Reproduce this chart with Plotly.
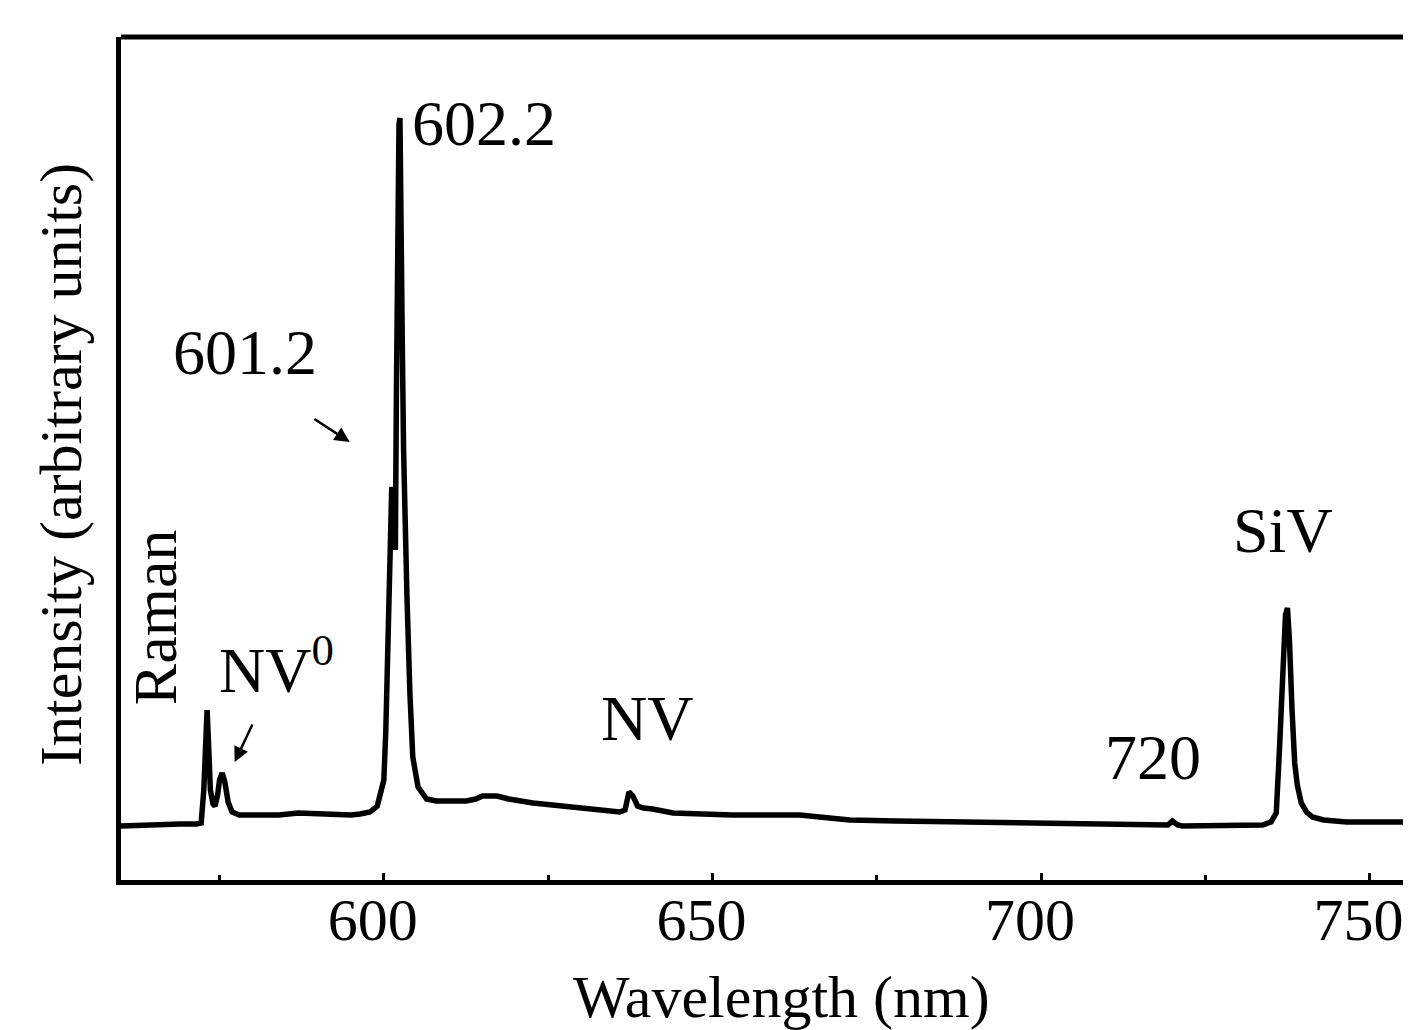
import plotly.graph_objects as go

# ---- data ----
wavelength_nm = [560.0, 563, 566, 569, 571.5, 572.2, 572.6, 572.9, 573.1, 573.3, 573.6, 574.0, 574.3,
                 574.7, 575.0, 575.4, 575.8, 576.3, 576.9, 578.0, 581, 584, 587, 590, 593, 595, 596.4,
                 597.9, 599.0, 599.6, 600.0, 600.3, 600.5, 600.7, 600.9, 601.05, 601.2, 601.4, 601.6,
                 601.75, 601.9, 602.1, 602.3, 602.45, 602.6, 602.8, 603.0, 603.2, 603.5, 603.96, 604.4,
                 605.2, 606.5, 608, 610, 612.5, 614.0, 615.0, 617.2, 619, 622.7, 627.8, 632, 635.9,
                 636.7, 637.3, 637.9, 638.6, 639.5, 640.9, 644, 648, 653, 658, 663.3, 666.3, 670.9,
                 678, 686.1, 694, 701.3, 709, 716.5, 719.3, 720.0, 720.8, 721.5, 726.7, 731, 733.7,
                 735.0, 735.8, 736.3, 736.8, 737.2, 737.5, 737.8, 738.2, 738.6, 739.0, 739.6, 740.4,
                 741.3, 743, 746.5, 751, 756.3]
intensity = [54, 55, 55, 56, 56, 57, 90, 150, 170, 140, 90, 76, 74,
             85, 100, 107, 98, 78, 68, 65, 65, 65, 67, 66, 65, 65, 66,
             68, 74, 87, 100, 150, 210, 300, 360, 385, 393, 385, 350,
             330, 480, 680, 755, 762, 700, 540, 430, 363, 287, 187, 123,
             93, 81, 79, 79, 79, 81, 84, 84, 81, 77, 73, 70, 68,
             70, 88, 84, 74, 72, 71, 67, 66, 65, 65, 65, 63, 60,
             59, 58, 57, 56, 55, 54, 55, 59, 55, 54, 55, 55, 55,
             58, 67, 133, 217, 265, 272, 240, 170, 117, 95, 77, 68,
             63, 60, 58, 58, 58]

x_ticks = [600, 650, 700, 750]
x_tick_labels = ["600", "650", "700", "750"]

labels_text = ["602.2", "601.2", "NV<sup>0</sup>", "NV", "720", "SiV"]
labels_x = [615.2, 578.9, 583.7, 640.0, 717.0, 736.8]
labels_y = [757, 528, 215, 162, 123, 350]

FONT = "Liberation Serif, Times New Roman, serif"

# The page body has an 8 px default margin, so the figure is drawn 8 px smaller
OFF = 8
W, H = 1411 - OFF, 1030 - OFF
L, T, B = 121 - OFF, 37 - OFF, 150
PW, PH = W - L, H - T - B

fig = go.Figure()
fig.add_trace(go.Scatter(x=wavelength_nm, y=intensity, mode="lines",
                         line=dict(color="black", width=5.5), showlegend=False,
                         hoverinfo="skip"))

for t, x, y in zip(labels_text, labels_x, labels_y):
    fig.add_annotation(x=x, y=y, text=t, showarrow=False,
                       font=dict(family=FONT, size=64, color="black"))

fig.add_annotation(x=565.2, y=263, text="Raman", showarrow=False, textangle=-90,
                   font=dict(family=FONT, size=62, color="black"))

# arrows
fig.add_annotation(x=594.8, y=438, ax=589.2, ay=462, axref="x", ayref="y", text="",
                   showarrow=True, arrowhead=2, arrowsize=1.2, arrowwidth=2.5, arrowcolor="black")
fig.add_annotation(x=577.3, y=118, ax=580.1, ay=157, axref="x", ayref="y", text="",
                   showarrow=True, arrowhead=2, arrowsize=1.2, arrowwidth=2.5, arrowcolor="black")

# axis titles (positions in page pixels converted to paper units)
fig.add_annotation(xref="paper", yref="paper", x=(781 - 121) / PW, y=-(997 - 880) / PH,
                   text="Wavelength (nm)", showarrow=False, xanchor="center", yanchor="middle",
                   font=dict(family=FONT, size=60, color="black"))
fig.add_annotation(xref="paper", yref="paper", x=-(121 - 61) / PW, y=(880 - 465) / PH,
                   text="Intensity (arbitrary units)", showarrow=False, textangle=-90,
                   xanchor="center", yanchor="middle",
                   font=dict(family=FONT, size=60, color="black"))

# top frame line
fig.add_shape(type="line", xref="paper", yref="paper", x0=0, x1=1.01, y0=1, y1=1,
              line=dict(color="black", width=5))

fig.update_layout(
    width=W, height=H,
    margin=dict(l=L, r=0, t=T, b=B),
    paper_bgcolor="white", plot_bgcolor="white",
    font=dict(family=FONT, color="black"),
    xaxis=dict(range=[560, 756.3], showgrid=False, zeroline=False,
               showline=True, linecolor="black", linewidth=5,
               tickmode="array", tickvals=x_ticks, ticktext=x_tick_labels,
               ticks="inside", ticklen=7, tickwidth=3, tickcolor="black",
               tickfont=dict(family=FONT, size=60, color="black"),
               ticklabelshift=-11, ticklabelstandoff=-17,
               minor=dict(tickvals=[575, 625, 675, 725], ticks="inside", ticklen=5,
                          tickwidth=3, tickcolor="black")),
    yaxis=dict(range=[0, 843], showgrid=False, zeroline=False,
               showline=True, linecolor="black", linewidth=5,
               showticklabels=False, ticks=""),
)

fig.write_html("out.html")
